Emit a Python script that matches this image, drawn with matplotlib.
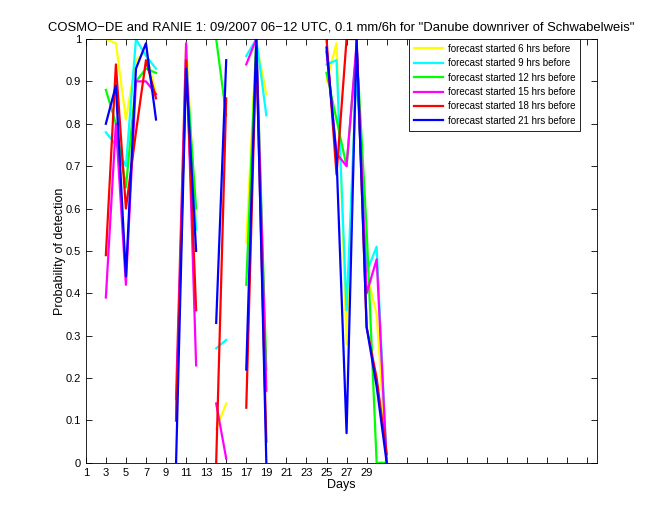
import numpy as np
import matplotlib
matplotlib.use('Agg')
import matplotlib.pyplot as plt

nan = np.nan

days = np.arange(1, 32)

# probability of detection per day, NaN where no event
pod_6h = [nan, nan, 1.0, 0.99, 0.81, 0.95, 0.97, 0.87, nan, 0.16, 0.99, 0.56, nan, 0.08, 0.14, nan,
          0.52, 0.99, 0.87, nan, nan, nan, nan, nan, 0.90, 0.99, 0.28, 0.95, 0.45, 0.35, 0.0]
pod_9h = [nan, nan, 0.78, 0.75, 0.70, 1.0, 0.96, 0.93, nan, 0.10, 0.96, 0.55, nan, 0.27, 0.29, nan,
          0.96, 1.0, 0.82, nan, nan, nan, nan, nan, 0.94, 0.95, 0.36, 0.93, 0.45, 0.51, 0.0]
pod_12h = [nan, nan, 0.88, 0.80, 0.65, 0.90, 0.93, 0.92, nan, 0.10, 0.93, 0.60, nan, 1.0, 0.82, nan,
           0.42, 1.0, 0.22, nan, nan, nan, nan, nan, 0.92, 0.81, 0.70, 0.98, 0.55, 0.0, 0.0]
pod_15h = [nan, nan, 0.39, 0.80, 0.42, 0.90, 0.90, 0.87, nan, 0.15, 0.99, 0.23, nan, 0.14, 0.01, nan,
           0.94, 1.0, 0.17, nan, nan, nan, nan, nan, 0.97, 0.73, 0.70, 0.99, 0.40, 0.48, 0.0]
pod_18h = [nan, nan, 0.49, 0.94, 0.60, 0.78, 0.95, 0.86, nan, 0.10, 0.95, 0.36, nan, 0.0, 0.86, nan,
           0.13, 0.98, 0.05, nan, nan, nan, nan, nan, 1.0, 0.68, 1.0, 1.0, 0.32, 0.20, 0.02]
pod_21h = [nan, nan, 0.80, 0.89, 0.44, 0.93, 0.99, 0.81, nan, 0.0, 0.93, 0.50, nan, 0.33, 0.95, nan,
           0.22, 1.0, 0.0, nan, nan, nan, nan, nan, 0.98, 0.72, 0.07, 1.0, 0.32, 0.18, 0.0]

series = [pod_6h, pod_9h, pod_12h, pod_15h, pod_18h, pod_21h]
labels = ['forecast started 6 hrs before', 'forecast started 9 hrs before',
          'forecast started 12 hrs before', 'forecast started 15 hrs before',
          'forecast started 18 hrs before', 'forecast started 21 hrs before']
colours = ['yellow', 'cyan', 'lime', 'magenta', 'red', 'blue']

xticks = np.arange(1, 52, 2)
xticklabels = [str(t) if t <= 29 else '' for t in xticks]
yticks = np.arange(0, 1.01, 0.1)
yticklabels = ['0', '0.1', '0.2', '0.3', '0.4', '0.5', '0.6', '0.7', '0.8', '0.9', '1']

plt.rcParams['font.family'] = ['Liberation Sans', 'DejaVu Sans']

fig = plt.figure(figsize=(6.6, 5.2), dpi=100)
ax = fig.add_axes([0.13, 0.11, 0.775, 0.815])

for vals, lab, col in zip(series, labels, colours):
    ax.plot(days, vals, color=col, linewidth=1.6, label=lab)

ax.set_xlim(1, 52)
ax.set_ylim(0, 1)
ax.set_xticks(xticks)
ax.set_xticklabels(xticklabels)
ax.set_yticks(yticks)
ax.set_yticklabels(yticklabels)
ax.tick_params(direction='in', length=4, labelsize=8, top=True, right=True, width=0.6)
for sp in ax.spines.values():
    sp.set_linewidth(0.6)

ax.set_xlabel('Days', fontsize=9, labelpad=1)
ax.set_ylabel('Probability of detection', fontsize=9, labelpad=0)
ax.set_title('COSMO\u2212DE and RANIE 1: 09/2007 06\u221212 UTC, 0.1 mm/6h for "Danube downriver of Schwabelweis"',
             fontsize=9.4, pad=6)

leg = ax.legend(loc='upper right', bbox_to_anchor=(0.967, 1.0), fontsize=7, handlelength=3.0,
                handletextpad=0.5, labelspacing=0.45, borderpad=0.5, fancybox=False,
                framealpha=1, edgecolor='black', borderaxespad=0)
leg.get_frame().set_linewidth(0.6)

fig.savefig('out.png', dpi=100)
